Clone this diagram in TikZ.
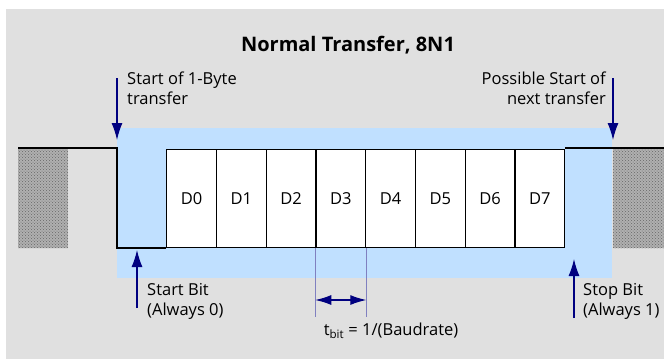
\documentclass[tikz,border=0pt]{standalone}
\usepackage{fontspec}
\setmainfont{Open Sans}
\usetikzlibrary{arrows.meta, patterns}
\definecolor{panelgrey}{HTML}{E0E0E0}
\definecolor{frameblue}{HTML}{C0E0FF}
\definecolor{markernavy}{HTML}{000080}
\definecolor{ticklilac}{HTML}{8080C0}
\definecolor{idlegrey}{HTML}{B0B0B0}

\begin{document}
\begin{tikzpicture}[x=1pt,y=1pt,
  every node/.style={font=\fontsize{16.5}{20}\selectfont},
  bitbox/.style={draw,line width=1.3pt,fill=white,minimum width=49.75pt,
    minimum height=98pt,inner sep=0pt,anchor=south west},
  marker/.style={markernavy,line width=1.2pt,-{Latex[length=17pt,width=11pt]}},
  note/.style={align=left,anchor=north west,inner sep=0pt}]
  \useasboundingbox (0,0) rectangle (664,360);

  % Panel and title
  \fill[panelgrey] (6,1) rectangle (664,351);
  \node[font=\bfseries\fontsize{20}{24}\selectfont] (title) at (348,315) {Normal Transfer, 8N1};

  % Frame of one transfer
  \fill[frameblue] (117,82) rectangle (612,232);

  % Idle line before and after
  \fill[idlegrey] (18,112) rectangle (68,212);
  \fill[pattern=crosshatch dots,pattern color=black!60] (18,112) rectangle (68,212);
  \fill[idlegrey] (613,112) rectangle (664,212);
  \fill[pattern=crosshatch dots,pattern color=black!60] (613,112) rectangle (664,212);

  % Data bits
  \foreach \i in {0,...,7}
    \node[bitbox] (D\i) at ({166+49.75*\i},112) {D\i};

  % Signal level
  \coordinate (idleL) at (18,212);
  \coordinate (fall) at (117,212);
  \coordinate (low) at (117,112);
  \coordinate (idleR) at (664,212);
  \draw[line width=1.8pt] (idleL) -- (fall) -- (low) -- (D0.south west);
  \draw[line width=1.8pt] (D7.east |- idleR) -- (idleR);

  % Start and end of the transfer
  \coordinate (startTop) at (117,282);
  \coordinate (startTip) at (117,220);
  \draw[marker] (startTop) -- (startTip);
  \node[note] (startTxt) at (127,288) {Start of 1-Byte\\transfer};
  \coordinate (nextTop) at (613,282);
  \coordinate (nextTip) at (613,220);
  \draw[marker] (nextTop) -- (nextTip);
  \node[note,align=right,anchor=north east] (nextTxt) at (606,288) {Possible Start of\\next transfer};

  % Start and stop bit
  \coordinate (startBitLow) at (137,52);
  \coordinate (startBitTip) at (137,110);
  \draw[marker] (startBitLow) -- (startBitTip);
  \node[note] (startBitTxt) at (147,77) {Start Bit\\(Always 0)};
  \coordinate (stopBitLow) at (574,42);
  \coordinate (stopBitTip) at (574,101);
  \draw[marker] (stopBitLow) -- (stopBitTip);
  \node[note] (stopBitTxt) at (583,77) {Stop Bit\\(Always 1)};

  % Bit time
  \coordinate (baud) at (0,60);
  \draw[ticklilac,line width=0.7pt] (D3.south west) -- ++(0,-69);
  \draw[ticklilac,line width=0.7pt] (D3.south east) -- ++(0,-69);
  \draw[markernavy,line width=1.2pt,{Latex[length=16pt,width=10pt]}-{Latex[length=16pt,width=10pt]}]
    (D3.south west |- baud) -- (D3.south east |- baud);
  \node (tbit) at (391,29) {t\textsubscript{bit} = 1/(Baudrate)};
\end{tikzpicture}
\end{document}
